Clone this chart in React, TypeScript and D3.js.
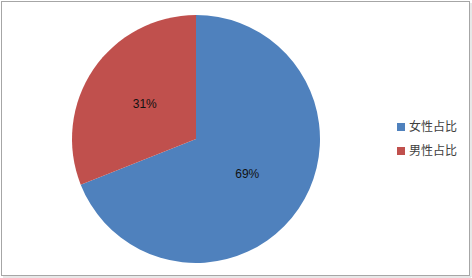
import React, { useEffect, useRef } from "react";
import * as d3 from "d3";

const categories = ["女性占比", "男性占比"];
const values = [69, 31];
const colors = ["#4F81BD", "#C0504D"];

export default function App() {
  const ref = useRef<SVGSVGElement>(null);

  useEffect(() => {
    const width = 472;
    const height = 278;
    const cx = 196;
    const cy = 139;
    const radius = 124;

    const svg = d3.select(ref.current);
    svg.selectAll("*").remove();
    svg.attr("width", width).attr("height", height);

    // chart frame
    svg.append("rect").attr("x", 0).attr("y", 0).attr("width", width).attr("height", height).attr("fill", "#fff");
    svg.append("rect")
      .attr("x", 1.5).attr("y", 1.5)
      .attr("width", 468).attr("height", 274)
      .attr("fill", "none")
      .attr("stroke", "#a6a6a6")
      .attr("stroke-width", 1);
    svg.append("line")
      .attr("x1", 471).attr("y1", 3).attr("x2", 471).attr("y2", 277)
      .attr("stroke", "#d0d0d0");
    svg.append("line")
      .attr("x1", 3).attr("y1", 277).attr("x2", 471).attr("y2", 277)
      .attr("stroke", "#d0d0d0");

    const pie = d3.pie<number>().sort(null).value(d => d);
    const arcs = pie(values);
    const arc = d3.arc<d3.PieArcDatum<number>>().innerRadius(0).outerRadius(radius);
    const labelArc = d3.arc<d3.PieArcDatum<number>>().innerRadius(radius * 0.5).outerRadius(radius * 0.5);

    const g = svg.append("g").attr("transform", `translate(${cx}, ${cy})`);
    g.selectAll("path").data(arcs).enter()
      .append("path")
      .attr("d", arc)
      .attr("fill", (d, i) => colors[i]);

    g.selectAll("text").data(arcs).enter()
      .append("text")
      .attr("transform", d => `translate(${labelArc.centroid(d)})`)
      .attr("text-anchor", "middle")
      .attr("dy", "0.35em")
      .style("font-family", "Arial, 'Liberation Sans', sans-serif")
      .style("font-size", "12px")
      .attr("fill", "#111")
      .text(d => `${d.data}%`);

    // legend
    const legend = svg.append("g").attr("transform", "translate(397, 127)");
    categories.forEach((c, i) => {
      const item = legend.append("g").attr("transform", `translate(0, ${i * 24})`);
      item.append("rect")
        .attr("x", 0).attr("y", -4)
        .attr("width", 8).attr("height", 8)
        .attr("fill", colors[i]);
      item.append("text")
        .attr("x", 12).attr("y", 0)
        .attr("dy", "0.36em")
        .style("font-family", "'Noto Sans CJK SC', sans-serif")
        .style("font-size", "12px")
        .attr("fill", "#404040")
        .text(c);
    });
  }, []);

  return (
    <div style={{ position: "fixed", left: 0, top: 0 }}>
      <svg ref={ref}></svg>
    </div>
  );
}
